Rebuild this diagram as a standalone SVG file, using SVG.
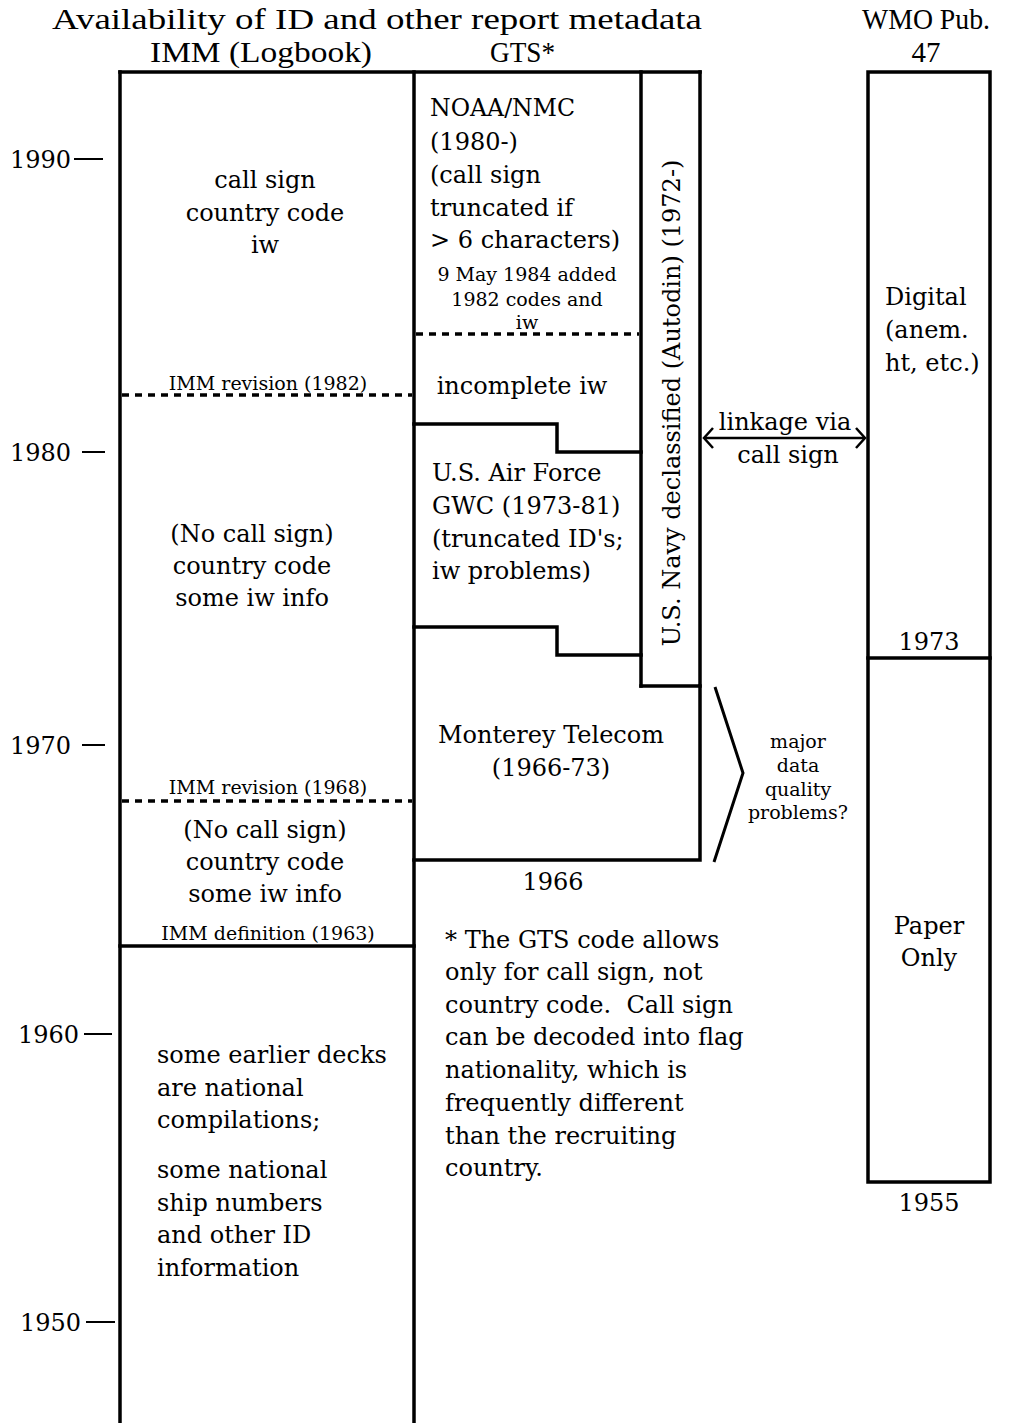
<svg xmlns="http://www.w3.org/2000/svg" width="1012" height="1423" viewBox="0 0 1012 1423">
<style>
.t{font-family:"DejaVu Serif","Liberation Serif",serif;font-size:24px;fill:#000}
.s{font-family:"DejaVu Serif","Liberation Serif",serif;font-size:19px;fill:#000}
.h{font-family:"Liberation Serif",serif;font-size:29px;fill:#000}
.m{text-anchor:middle}
.ln{stroke:#000;stroke-width:3.5;fill:none;stroke-linecap:square}
.ds{stroke:#000;stroke-width:3.5;fill:none;stroke-dasharray:7 6}
.tk{stroke:#000;stroke-width:2;fill:none}
</style>
<defs>
<marker id="chev" viewBox="-12 -12 24 24" markerWidth="24" markerHeight="24" markerUnits="userSpaceOnUse" orient="auto-start-reverse" refX="0" refY="0">
<path d="M-9,-10 L0,0 L-9,10" stroke="#000" stroke-width="2.5" fill="none"/>
</marker>
</defs>
<rect width="1012" height="1423" fill="#fff"/>

<g id="header">
<text class="h" x="52" y="29" textLength="650" lengthAdjust="spacingAndGlyphs">Availability of ID and other report metadata</text>
<text class="h" x="150" y="62" textLength="222" lengthAdjust="spacingAndGlyphs">IMM (Logbook)</text>
<text class="h" x="490" y="62" textLength="65" lengthAdjust="spacingAndGlyphs">GTS*</text>
<text class="h" x="862" y="29" textLength="128" lengthAdjust="spacingAndGlyphs">WMO Pub.</text>
<text class="h m" x="926" y="62">47</text>
</g>

<g id="axis">
<text class="t" x="10" y="168">1990</text><line class="tk" x1="74" y1="159" x2="103" y2="159"/>
<text class="t" x="10" y="461">1980</text><line class="tk" x1="82" y1="452" x2="105" y2="452"/>
<text class="t" x="10" y="754">1970</text><line class="tk" x1="82" y1="745" x2="105" y2="745"/>
<text class="t" x="18" y="1043">1960</text><line class="tk" x1="84" y1="1034" x2="112" y2="1034"/>
<text class="t" x="20" y="1331">1950</text><line class="tk" x1="86" y1="1322" x2="115" y2="1322"/>
</g>

<g id="imm-column">
<line class="ln" x1="120" y1="72" x2="120" y2="1423"/>
<line class="ln" x1="414" y1="72" x2="414" y2="1423"/>
<line class="ln" x1="120" y1="72" x2="700" y2="72"/>
<line class="ds" x1="122" y1="395" x2="412" y2="395"/>
<line class="ds" x1="122" y1="801" x2="412" y2="801"/>
<line class="ln" x1="120" y1="946" x2="414" y2="946"/>
</g>

<g id="imm-1982-present">
<text class="t m" x="265" y="188">call sign</text>
<text class="t m" x="265" y="221">country code</text>
<text class="t m" x="265" y="253">iw</text>
<text class="s m" x="268" y="390">IMM revision (1982)</text>
</g>

<g id="imm-1968-1982">
<text class="t m" x="252" y="542">(No call sign)</text>
<text class="t m" x="252" y="574">country code</text>
<text class="t m" x="252" y="606">some iw info</text>
<text class="s m" x="268" y="794">IMM revision (1968)</text>
</g>

<g id="imm-1963-1968">
<text class="t m" x="265" y="838">(No call sign)</text>
<text class="t m" x="265" y="870">country code</text>
<text class="t m" x="265" y="902">some iw info</text>
<text class="s m" x="268" y="940">IMM definition (1963)</text>
</g>

<g id="imm-pre-1963">
<text class="t" x="157" y="1063">some earlier decks</text>
<text class="t" x="157" y="1096">are national</text>
<text class="t" x="157" y="1128">compilations;</text>
<text class="t" x="157" y="1178">some national</text>
<text class="t" x="157" y="1211">ship numbers</text>
<text class="t" x="157" y="1243">and other ID</text>
<text class="t" x="157" y="1276">information</text>
</g>

<g id="noaa-nmc">
<line class="ln" x1="641" y1="72" x2="641" y2="686"/>
<line class="ds" x1="416" y1="334" x2="639" y2="334"/>
<text class="t" x="430" y="116" textLength="145" lengthAdjust="spacingAndGlyphs">NOAA/NMC</text>
<text class="t" x="430" y="150">(1980-)</text>
<text class="t" x="430" y="183">(call sign</text>
<text class="t" x="430" y="216">truncated if</text>
<text class="t" x="430" y="248">&gt; 6 characters)</text>
<text class="s m" x="527" y="281">9 May 1984 added</text>
<text class="s m" x="527" y="306">1982 codes and</text>
<text class="s m" x="527" y="329">iw</text>
<text class="t m" x="522" y="394">incomplete iw</text>
</g>

<g id="usaf-gwc">
<polyline class="ln" points="414,424 557,424 557,452 641,452"/>
<polyline class="ln" points="414,627 557,627 557,655 641,655"/>
<text class="t" x="432" y="481">U.S. Air Force</text>
<text class="t" x="432" y="514">GWC (1973-81)</text>
<text class="t" x="432" y="547">(truncated ID's;</text>
<text class="t" x="432" y="579">iw problems)</text>
</g>

<g id="navy-autodin">
<polyline class="ln" points="641,686 700,686 700,72"/>
<text class="t m" transform="translate(680,403) rotate(-90)">U.S. Navy declassified (Autodin) (1972-)</text>
</g>

<g id="monterey">
<polyline class="ln" points="700,686 700,860 414,860"/>
<text class="t m" x="551" y="743">Monterey Telecom</text>
<text class="t m" x="551" y="776">(1966-73)</text>
<text class="t m" x="553" y="890">1966</text>
</g>

<g id="footnote">
<text class="t" x="445" y="948">* The GTS code allows</text>
<text class="t" x="445" y="980">only for call sign, not</text>
<text class="t" x="445" y="1013">country code.&#160; Call sign</text>
<text class="t" x="445" y="1045">can be decoded into flag</text>
<text class="t" x="445" y="1078">nationality, which is</text>
<text class="t" x="445" y="1111">frequently different</text>
<text class="t" x="445" y="1144">than the recruiting</text>
<text class="t" x="445" y="1176">country.</text>
</g>

<g id="wmo-pub47">
<rect class="ln" x="868" y="72" width="122" height="1110"/>
<line class="ln" x1="868" y1="658" x2="990" y2="658"/>
<text class="t" x="885" y="305">Digital</text>
<text class="t" x="885" y="338">(anem.</text>
<text class="t" x="885" y="371">ht, etc.)</text>
<text class="t m" x="929" y="650">1973</text>
<text class="t m" x="929" y="934">Paper</text>
<text class="t m" x="929" y="966">Only</text>
<text class="t m" x="929" y="1211">1955</text>
</g>

<g id="quality-note">
<text class="s m" x="798" y="748">major</text>
<text class="s m" x="798" y="772">data</text>
<text class="s m" x="798" y="796">quality</text>
<text class="s m" x="798" y="819">problems?</text>
</g>

<g id="connectors">
<line x1="704" y1="438" x2="865" y2="438" stroke="#000" stroke-width="2.5" marker-start="url(#chev)" marker-end="url(#chev)"/>
<text class="t m" x="785" y="430">linkage via</text>
<text class="t m" x="788" y="463">call sign</text>
<polyline points="715,687 743,773 714,862" stroke="#000" stroke-width="3" fill="none"/>
</g>
</svg>
